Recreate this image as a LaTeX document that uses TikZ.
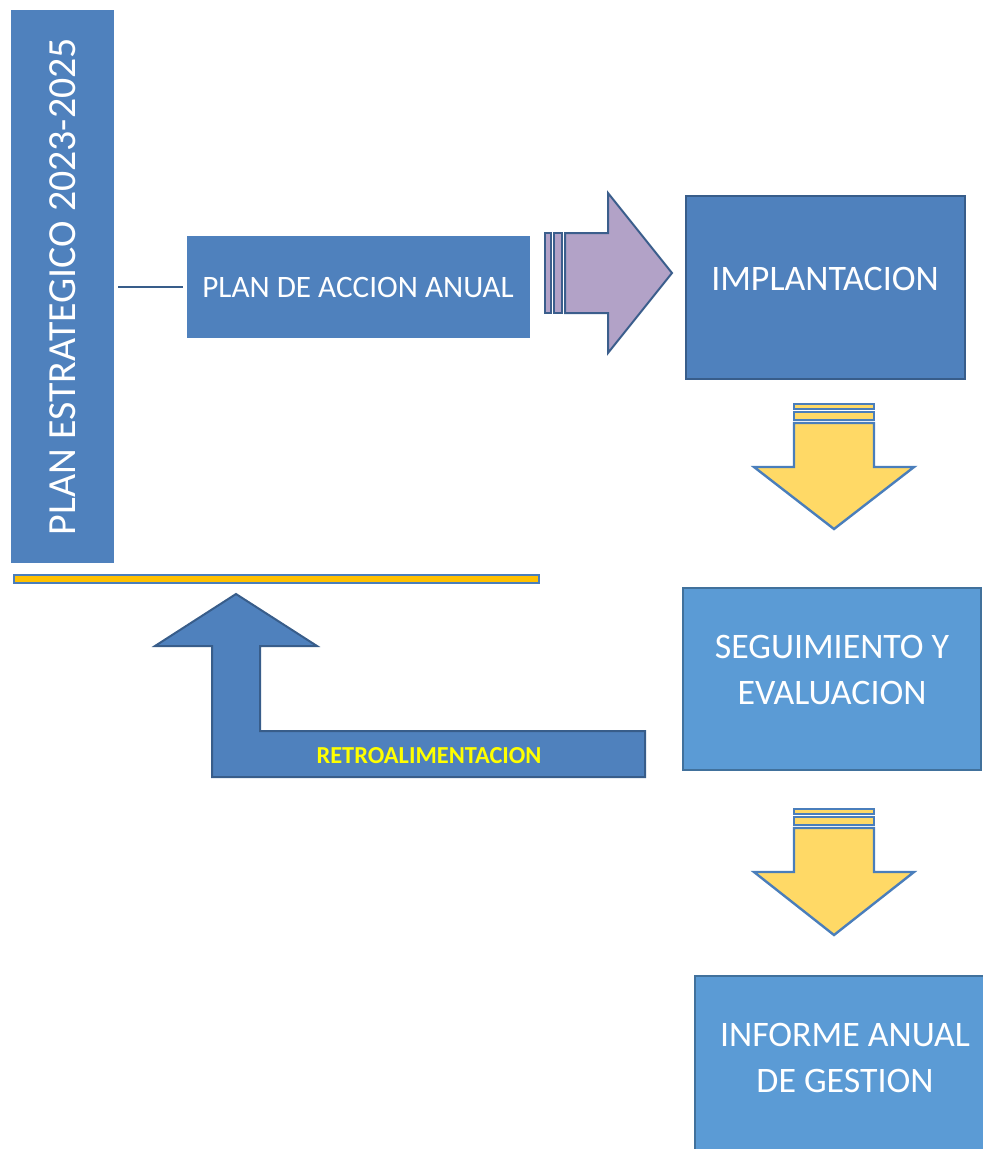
\documentclass[tikz,border=0pt]{standalone}
\usepackage{fontspec}
\setmainfont{Carlito}
\usetikzlibrary{positioning}
\definecolor{boxblue}{HTML}{4F81BD}
\definecolor{boxline}{HTML}{385D8A}
\definecolor{lightblue}{HTML}{5B9BD5}
\definecolor{lightline}{HTML}{41719C}
\definecolor{lilac}{HTML}{B2A2C7}
\definecolor{lilacline}{HTML}{3B5E8C}
\definecolor{gold}{HTML}{FFD966}
\definecolor{goldline}{HTML}{4A7EBB}
\definecolor{amber}{HTML}{FFC000}
\definecolor{retroyellow}{HTML}{FFFF00}

\begin{document}
\begin{tikzpicture}[x=0.75pt,y=-0.75pt,
    darkbox/.style={fill=boxblue,draw=boxline,line width=1.5pt},
    lightbox/.style={fill=lightblue,draw=lightline,line width=1.5pt},
    boxtext/.style={text=white,align=center,font=\fontsize{26.9}{34.5}\selectfont},
    purplearrow/.style={fill=lilac,draw=lilacline,line width=1.5pt,line join=miter},
    goldarrow/.style={fill=gold,draw=goldline,line width=1.8pt,line join=miter}]
          \useasboundingbox (0,0) rectangle (982,1149);
          \coordinate (a1) at (545,233);
          \coordinate (a2) at (551,313);
          \coordinate (a3) at (554,233);
          \coordinate (a4) at (562,313);
          \coordinate (a5) at (565,233);
          \coordinate (a6) at (608,233);
          \coordinate (a7) at (608,193);
          \coordinate (a8) at (672,273);
          \coordinate (a9) at (608,353);
          \coordinate (a10) at (608,313);
          \coordinate (a11) at (565,313);
          \coordinate (f1) at (236,594);
          \coordinate (f2) at (317,646);
          \coordinate (f3) at (260,646);
          \coordinate (f4) at (260,731);
          \coordinate (f5) at (645,731);
          \coordinate (f6) at (645,777);
          \coordinate (f7) at (212,777);
          \coordinate (f8) at (212,646);
          \coordinate (f9) at (155,646);
          % boxes
          \node[fill=boxblue,rotate=90,minimum width=414.75pt,minimum height=77.25pt,
                text=white,font=\fontsize{29.9}{35}\selectfont] (strat) at (62.5,286.5)
                {PLAN ESTRATEGICO 2023-2025};
          \node[fill=boxblue,minimum width=257.25pt,minimum height=76.5pt,
                text=white,font=\fontsize{23.4}{28}\selectfont] (accion) at (358,287)
                {PLAN DE ACCION ANUAL};
          \node[darkbox,minimum width=209.25pt,minimum height=137.25pt] (impl) at (825.5,287.5) {};
          \node[lightbox,minimum width=223.5pt,minimum height=136.5pt] (segui) at (832,679) {};
          \node[lightbox,minimum width=225.75pt,minimum height=138pt] (informe) at (845.5,1068) {};
          \node[boxtext] (impltext) at (825,279) {IMPLANTACION};
          \node[boxtext] (seguitext) at (832,670) {SEGUIMIENTO Y\\EVALUACION};
          \node[boxtext] (informetext) at (845,1057.5) {INFORME ANUAL\\DE GESTION};
          \draw[boxline,line width=1.2pt,shorten <=3pt,shorten >=2.25pt]
                (strat.south |- accion.west) -- (accion.west);
          % purple arrow
          \draw[purplearrow] (a1) rectangle (a2);
          \draw[purplearrow] (a3) rectangle (a4);
          \draw[purplearrow] (a5) -- (a6) -- (a7) -- (a8) -- (a9) -- (a10) -- (a11) -- cycle;
          % yellow arrows
          \draw[goldarrow] (794,404) rectangle (874,409);
          \draw[goldarrow] (794,412) rectangle (874,420);
          \draw[goldarrow] (794,423) -- (874,423) -- (874,467) -- (914,467) --
                           (834,529) -- (754,467) -- (794,467) -- cycle;
          \draw[goldarrow] (794,809) rectangle (874,814);
          \draw[goldarrow] (794,817) rectangle (874,825);
          \draw[goldarrow] (794,828) -- (874,828) -- (874,872) -- (914,872) --
                           (834,935) -- (754,872) -- (794,872) -- cycle;
          % orange bar
          \draw[fill=amber,draw=goldline,line width=1.2pt] (14,575) rectangle (539,583);
          % feedback arrow
          \draw[fill=boxblue,draw=boxline,line width=1.5pt,line join=miter]
                (f1) -- (f2) -- (f3) -- (f4) -- (f5) -- (f6) -- (f7) -- (f8) -- (f9) -- cycle;
          \node[text=retroyellow,font=\bfseries\fontsize{18.3}{22}\selectfont] (retro) at (429,756)
                {RETROALIMENTACION};
        \end{tikzpicture}
\end{document}
